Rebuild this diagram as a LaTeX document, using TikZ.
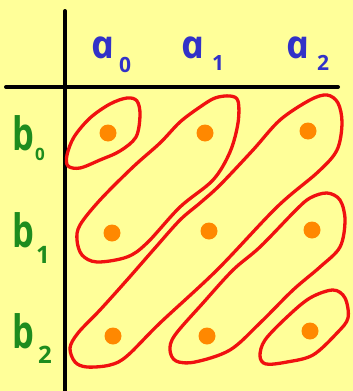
\documentclass[tikz,border=0pt]{standalone}
\usepackage{fontspec}
\newfontfamily\hand{Open Sans}[ItalicFeatures={FakeSlant=-0.2}, BoldItalicFeatures={FakeSlant=-0.2}]
\definecolor{bg}{HTML}{FFFF99}
\definecolor{loopred}{HTML}{F01010}
\definecolor{dotorange}{HTML}{FF8800}
\definecolor{ablue}{HTML}{3232C8}
\definecolor{bgreen}{HTML}{1E8C1E}
\tikzset{
  axis/.style={line width=4pt, black, line cap=round},
  loopline/.style={line width=3.3pt, loopred, line cap=round, line join=round},
  dot/.style={circle, fill=dotorange, minimum size=17pt, inner sep=0pt},
  alab/.style={text=ablue, inner sep=0pt, anchor=base, font=\hand\bfseries\itshape\fontsize{39}{39}\selectfont},
  asub/.style={text=ablue, inner sep=0pt, anchor=base, font=\hand\bfseries\fontsize{21}{21}\selectfont},
  blab/.style={text=bgreen, inner sep=0pt, anchor=base, xscale=0.75, font=\hand\bfseries\fontsize{46}{46}\selectfont},
  bsub/.style={text=bgreen, inner sep=0pt, anchor=base, font=\hand\bfseries\fontsize{24}{24}\selectfont},
}
\begin{document}
\begin{tikzpicture}[x=1pt,y=-1pt]
\fill[bg] (0,0) rectangle (353,391);
\useasboundingbox (0,0) rectangle (353,391);
% axes
\coordinate (vt) at (65,11);
\coordinate (vb) at (65,391);
\coordinate (hl) at (6,87);
\coordinate (hr) at (338,87);
\draw[axis] (vt) -- (vb);
\draw[axis] (hl) -- (hr);
% labels
\node[alab] (a0) at (105,58) {a};
\node[asub] (a0s) at (125,72) {0};
\node[alab] (a1) at (195,58) {a};
\node[asub] (a1s) at (218,70) {1};
\node[alab] (a2) at (300,58) {a};
\node[asub] (a2s) at (323,70) {2};
\node[blab] (b0) at (23,150) {b};
\node[bsub, font=\hand\bfseries\fontsize{17}{17}\selectfont] (b0s) at (40,160) {0};
\node[blab] (b1) at (23,247) {b};
\node[bsub] (b1s) at (43,263) {1};
\node[blab] (b2) at (23,348) {b};
\node[bsub] (b2s) at (45,363) {2};
% dots
\node[dot] (d00) at (108,133) {};
\node[dot] (d10) at (205,133) {};
\node[dot] (d20) at (308,131) {};
\node[dot] (d01) at (112,233) {};
\node[dot] (d11) at (209,231) {};
\node[dot] (d21) at (312,230) {};
\node[dot] (d02) at (113,336) {};
\node[dot] (d12) at (207,336) {};
\node[dot] (d22) at (310,331) {};
% loops
\draw[loopline] plot[smooth cycle, tension=0.55] coordinates {(67,155) (74,137) (90,118) (110,104) (127,98) (137,101) (140,115) (136,137) (120,151) (100,160) (80,168) (68,166)};
\draw[loopline] plot[smooth cycle, tension=0.55] coordinates {(77,240) (82,255) (97,262) (127,257) (147,243) (180,207) (213,180) (230,152) (238,123) (238,101) (230,96) (215,98) (200,107) (180,122) (160,143) (133,167) (100,200) (80,225)};
\draw[loopline] plot[smooth cycle, tension=0.55] coordinates {(70,348) (75,362) (87,367) (110,365) (127,356) (160,323) (217,270) (277,207) (318,172) (337,150) (342,123) (338,103) (327,95) (310,100) (280,120) (253,150) (220,185) (200,203) (180,220) (155,248) (127,280) (100,310) (78,333)};
\draw[loopline] plot[smooth cycle, tension=0.55] coordinates {(170,350) (176,361) (195,362) (230,350) (260,323) (293,290) (320,267) (340,247) (345,220) (340,200) (327,193) (310,198) (295,211) (260,247) (233,270) (203,303) (175,335)};
\draw[loopline] plot[smooth cycle, tension=0.55] coordinates {(260,356) (265,340) (287,317) (310,298) (333,290) (345,298) (348,318) (337,333) (313,355) (287,362) (266,364)};
\end{tikzpicture}
\end{document}
